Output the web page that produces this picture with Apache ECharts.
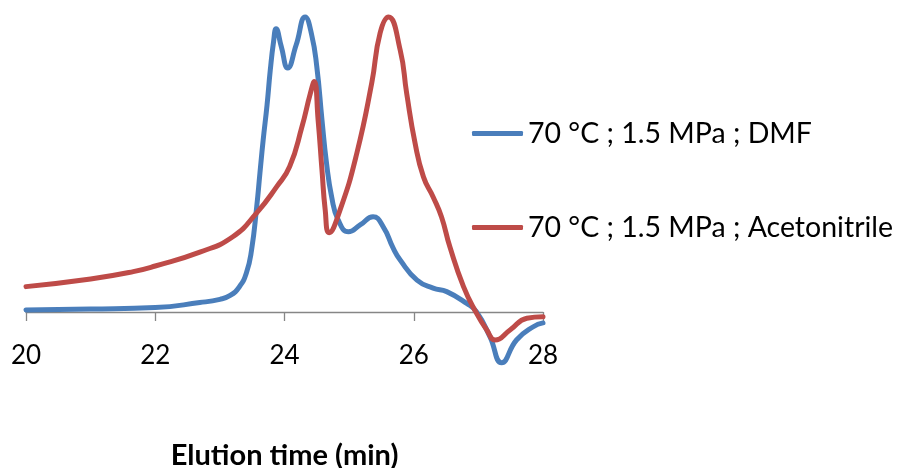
<!DOCTYPE html>
<html>
<head>
<meta charset="utf-8">
<script src="https://cdn.jsdelivr.net/npm/echarts@6/dist/echarts.min.js"></script>
<style>
html,body{margin:0;padding:0;background:#fff;}
#chart{width:904px;height:468px;}
</style>
</head>
<body>
<div id="chart"></div>
<script>
var xTicks = [20, 22, 24, 26, 28];
var seriesNames = ['70 °C ; 1.5 MPa ; DMF', '70 °C ; 1.5 MPa ; Acetonitrile'];
var axisTitle = 'Elution time (min)';

var timeDMF = [20.00, 21.00, 22.00, 22.69, 23.00, 23.16, 23.30, 23.41, 23.49, 23.57, 23.62, 23.67, 23.73, 23.78, 23.83, 23.87, 23.95, 24.05, 24.18, 24.32, 24.42, 24.50, 24.58, 24.65, 24.73, 24.83, 24.99, 25.17, 25.37, 25.53, 25.68, 25.79, 26.05, 26.30, 26.51, 26.82, 26.97, 27.18, 27.36, 27.59, 27.85, 28.00];
var valDMF  = [0.7, 1.0, 1.5, 3.2, 4.3, 5.6, 8.5, 13.2, 21.0, 35.7, 47.1, 58.3, 70.2, 82.0, 91.5, 96.0, 90.0, 82.7, 90.5, 100.0, 94.0, 83.1, 65.1, 50.5, 39.0, 31.2, 27.2, 29.5, 32.3, 28.8, 21.7, 17.6, 10.8, 8.1, 6.9, 2.9, 0.1, -8.4, -17.2, -9.5, -5.0, -3.7];

var timeACN = [20.00, 21.00, 21.66, 22.00, 22.69, 23.20, 23.57, 23.88, 24.08, 24.27, 24.40, 24.46, 24.52, 24.58, 24.63, 24.69, 24.86, 25.12, 25.35, 25.48, 25.61, 25.79, 25.89, 26.02, 26.15, 26.30, 26.43, 26.56, 26.77, 26.97, 27.13, 27.26, 27.49, 27.75, 28.00];
var valACN  = [8.6, 11.2, 13.7, 15.6, 20.3, 25.5, 33.6, 42.5, 49.3, 62.8, 74.1, 78.1, 65.1, 48.1, 34.6, 26.9, 34.6, 53.9, 77.6, 94.6, 100.0, 88.8, 74.2, 57.3, 45.8, 39.0, 32.2, 22.0, 8.6, -0.4, -6.1, -9.5, -6.1, -2.1, -1.6];

function pairs(xs, ys) { return xs.map(function (x, i) { return [x, ys[i]]; }); }

var chart = echarts.init(document.getElementById('chart'), null, {renderer: 'canvas'});
var font = 'Lato, "Open Sans", sans-serif';
chart.setOption({
  animation: false,
  backgroundColor: '#ffffff',
  textStyle: {fontFamily: font},
  grid: {left: 26, right: 361, top: 5.2, bottom: 97, containLabel: false, outerBoundsMode: 'none'},
  legend: {
    orient: 'vertical',
    left: 472,
    top: 119,
    padding: 0,
    icon: 'roundRect',
    itemWidth: 51,
    itemHeight: 5,
    itemGap: 65,
    textStyle: {fontFamily: font, fontSize: 28.5, color: '#000'},
    data: seriesNames
  },
  xAxis: {
    type: 'value',
    min: 20, max: 28, interval: 2,
    name: axisTitle,
    nameLocation: 'middle',
    nameGap: 70,
    nameTextStyle: {fontFamily: font, fontSize: 29, fontWeight: 'bold', color: '#000'},
    axisLine: {onZero: true, lineStyle: {color: '#868686', width: 1.3}},
    axisTick: {show: true, length: 9, lineStyle: {color: '#868686', width: 1.3}},
    axisLabel: {fontFamily: font, fontSize: 26, color: '#000', margin: -28,
      formatter: function (v) { return xTicks.indexOf(v) >= 0 ? String(v) : ''; }},
    splitLine: {show: false}
  },
  yAxis: {
    type: 'value',
    min: -20, max: 104,
    show: true,
    axisLine: {show: false},
    axisTick: {show: false},
    axisLabel: {show: false},
    splitLine: {show: false}
  },
  series: [
    {
      name: seriesNames[0], type: 'line', data: pairs(timeDMF, valDMF),
      symbol: 'none', smooth: 0.5, clip: false,
      lineStyle: {color: '#4A7EBB', width: 5, cap: 'round', join: 'round'},
      itemStyle: {color: '#4A7EBB'}
    },
    {
      name: seriesNames[1], type: 'line', data: pairs(timeACN, valACN),
      symbol: 'none', smooth: 0.5, clip: false,
      lineStyle: {color: '#BE4B48', width: 5, cap: 'round', join: 'round'},
      itemStyle: {color: '#BE4B48'}
    }
  ]
});
</script>
</body>
</html>
